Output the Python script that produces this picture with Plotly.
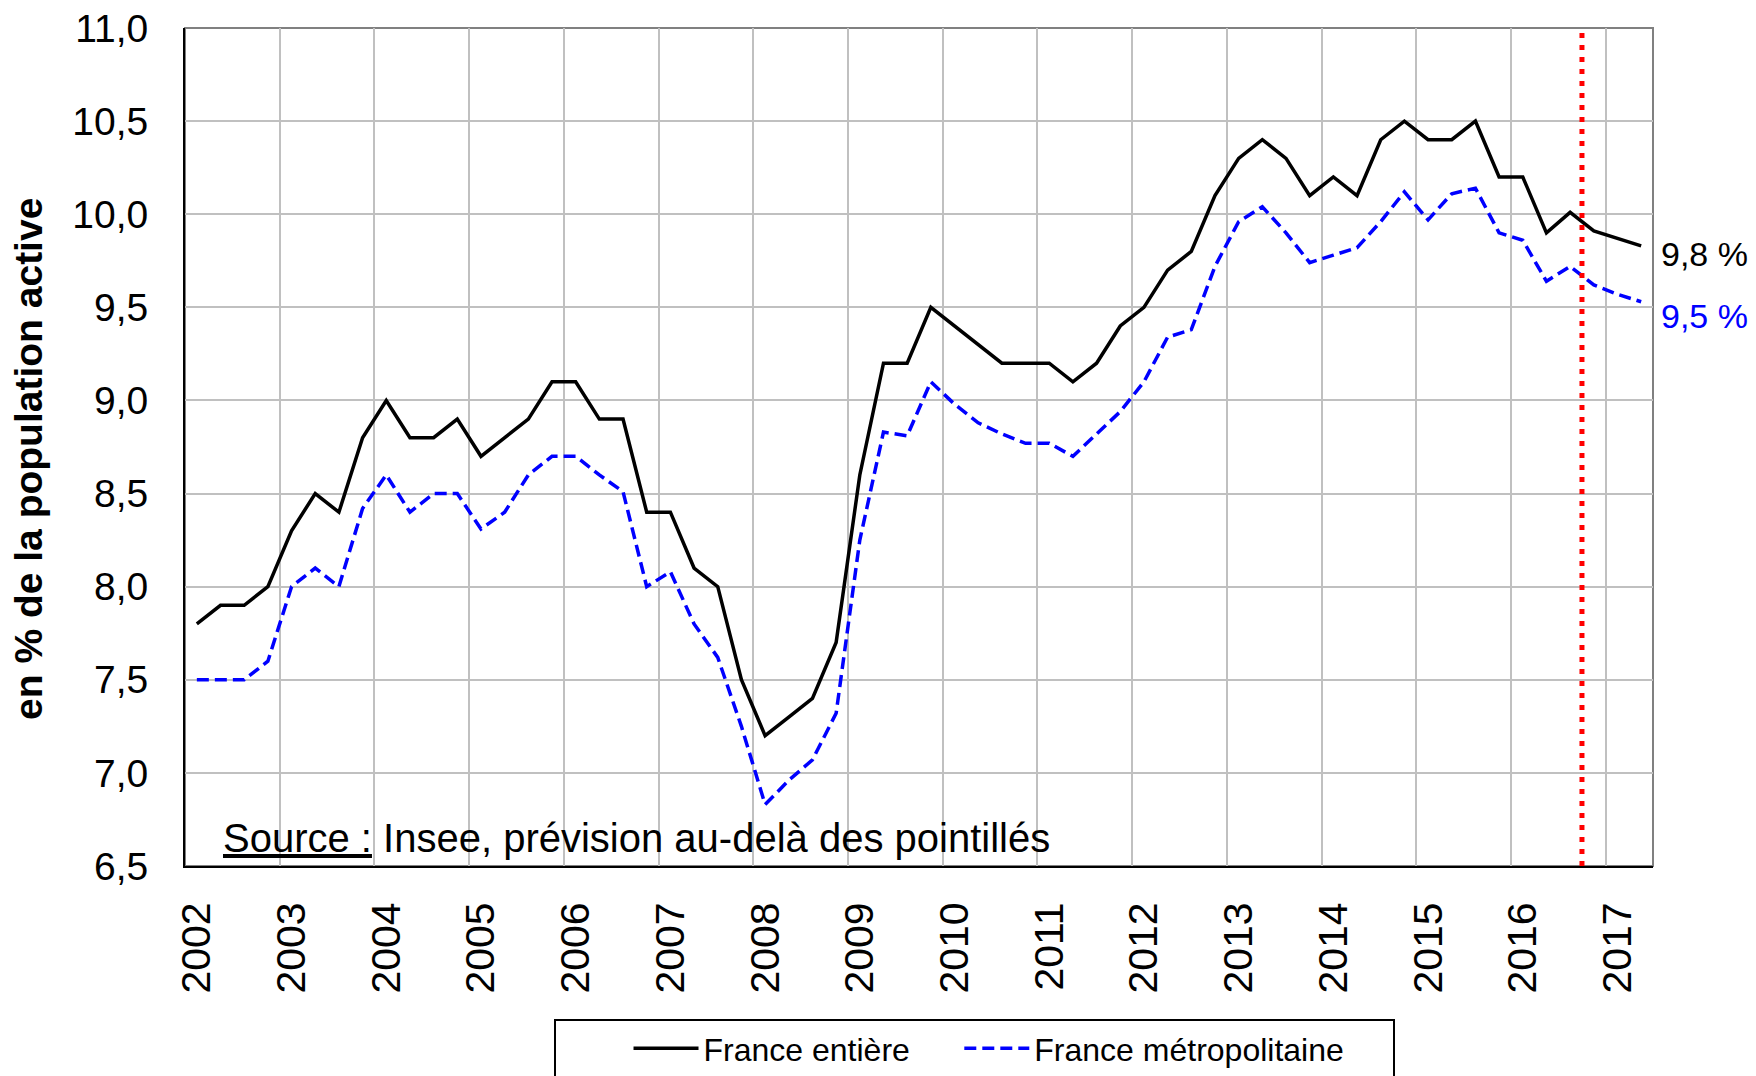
import plotly.graph_objects as go

# taux de chômage trimestriel, 2002T1 -> 2017T2 (prévision après 2016T3)
years = [str(y) for y in range(2002, 2018)]
quarters = [f"{y}T{q}" for y in years for q in (1, 2, 3, 4)][:62]

france_entiere = [
    7.8, 7.9, 7.9, 8.0,
    8.3, 8.5, 8.4, 8.8,
    9.0, 8.8, 8.8, 8.9,
    8.7, 8.8, 8.9, 9.1,
    9.1, 8.9, 8.9, 8.4,
    8.4, 8.1, 8.0, 7.5,
    7.2, 7.3, 7.4, 7.7,
    8.6, 9.2, 9.2, 9.5,
    9.4, 9.3, 9.2, 9.2,
    9.2, 9.1, 9.2, 9.4,
    9.5, 9.7, 9.8, 10.1,
    10.3, 10.4, 10.3, 10.1,
    10.2, 10.1, 10.4, 10.5,
    10.4, 10.4, 10.5, 10.2,
    10.2, 9.9, 10.01, 9.91,
    9.87, 9.83,
]

france_metro = [
    7.5, 7.5, 7.5, 7.6,
    8.0, 8.1, 8.0, 8.42,
    8.6, 8.4, 8.5, 8.5,
    8.31, 8.4, 8.6, 8.7,
    8.7, 8.6, 8.51, 8.0,
    8.08, 7.8, 7.62, 7.25,
    6.83, 6.96, 7.07, 7.32,
    8.25, 8.83, 8.81, 9.1,
    8.98, 8.88, 8.82, 8.77,
    8.77, 8.7, 8.82, 8.94,
    9.1, 9.34, 9.38, 9.72,
    9.96, 10.04, 9.9, 9.74,
    9.78, 9.82, 9.96, 10.12,
    9.97, 10.11, 10.14, 9.9,
    9.86, 9.64, 9.72, 9.62,
    9.57, 9.53,
]

y_ticks = [6.5, 7.0, 7.5, 8.0, 8.5, 9.0, 9.5, 10.0, 10.5, 11.0]
forecast_start = "2016T4"

FONT = "Liberation Sans, Arial, sans-serif"
NBSP = "\u00a0"

# la page ajoute 8 px de marge au body : on décale tout d'autant
W, H = 1748, 1068
L, R, T, B = 177, 103, 20, 210
plot_w = W - L - R

x = list(range(len(quarters)))
x_range = [-0.5, len(quarters) - 0.5]
year_pos = [quarters.index(y + "T1") for y in years]
year_bounds = [p - 0.5 for p in year_pos]  # grille entre T4 et T1
half_quarter_px = round(plot_w / len(quarters) / 2)  # libellé centré sur le T1

fig = go.Figure()
fig.add_trace(go.Scatter(x=x, y=france_entiere, mode="lines",
                         name="France entière" + NBSP * 5,
                         line=dict(color="black", width=3.5)))
fig.add_trace(go.Scatter(x=x, y=france_metro, mode="lines",
                         name="France métropolitaine" + NBSP * 5,
                         line=dict(color="#0000FF", width=3.5, dash="12px,6px")))

# pointillés rouges : début de la prévision
fig.add_vline(x=quarters.index(forecast_start) - 0.5,
              line=dict(color="#FF0000", width=5, dash="5px,7px"))

# cadre gris haut / droite
fig.add_shape(type="rect", xref="paper", yref="paper", x0=0, y0=0, x1=1, y1=1,
              line=dict(color="#808080", width=2), layer="below")

# dernières valeurs en bout de courbe
for vals, col, shift in [(france_entiere, "black", -8), (france_metro, "#0000FF", -14)]:
    fig.add_annotation(xref="paper", x=1, xanchor="left", xshift=6,
                       yref="y", y=vals[-1], yshift=shift, showarrow=False,
                       text=f"{vals[-1]:.1f}".replace(".", ",") + " %",
                       font=dict(family=FONT, size=34, color=col))

fig.add_annotation(xref="paper", x=0.0245, xanchor="left",
                   yref="paper", y=0.0, yanchor="bottom", yshift=4, showarrow=False,
                   text="<u>Source :</u> Insee, prévision au-delà des pointillés",
                   font=dict(family=FONT, size=40, color="black"))

# titre de l'axe vertical
fig.add_annotation(xref="paper", x=-0.1063, xanchor="center",
                   yref="paper", y=0.4857, yanchor="middle", textangle=-90,
                   showarrow=False, text="<b>en % de la population active</b>",
                   font=dict(family=FONT, size=39, color="black"))

fig.update_layout(
    width=W, height=H,
    margin=dict(l=L, r=R, t=T, b=B, autoexpand=False),
    plot_bgcolor="white", paper_bgcolor="white",
    separators=", ",
    font=dict(family=FONT, color="black"),
    xaxis=dict(range=x_range, tickmode="array", tickvals=year_bounds, ticktext=years,
               tickangle=-90, ticklabelshift=half_quarter_px, ticklabelstandoff=18,
               tickfont=dict(family=FONT, size=41), automargin=False,
               ticklabeloverflow="allow",
               showgrid=True, gridcolor="#C0C0C0", gridwidth=2,
               showline=True, linecolor="black", linewidth=2, zeroline=False, ticks=""),
    yaxis=dict(range=[y_ticks[0], y_ticks[-1]], tickmode="array", tickvals=y_ticks,
               tickformat=".1f", showgrid=True, gridcolor="#C0C0C0", gridwidth=2,
               showline=True, linecolor="black", linewidth=2, zeroline=False, ticks="",
               ticklabelstandoff=27, tickfont=dict(family=FONT, size=39), automargin=False,
               ticklabeloverflow="allow"),
    legend=dict(orientation="h", x=0.538, xanchor="center", y=-0.1826, yanchor="top",
                bordercolor="black", borderwidth=2, itemwidth=65,
                title=dict(text=NBSP * 7, side="left", font=dict(size=32)),
                font=dict(family=FONT, size=32)),
    showlegend=True,
)

fig.write_html("out.html")
